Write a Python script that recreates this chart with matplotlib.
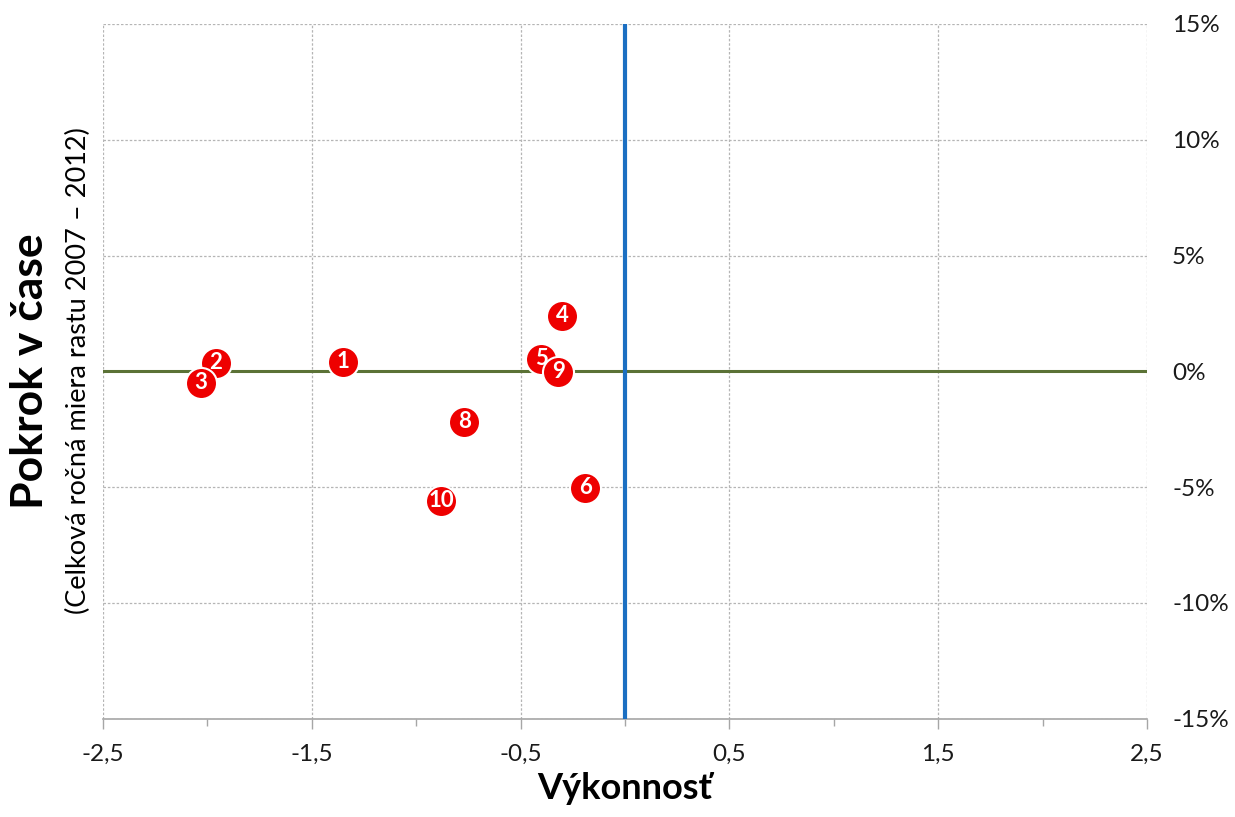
import matplotlib
matplotlib.use("Agg")
import matplotlib.pyplot as plt
from matplotlib.ticker import FixedLocator, FuncFormatter

plt.rcParams['font.family'] = ['Lato', 'DejaVu Sans']

# ---- data ----
point_labels = ["1", "2", "3", "4", "5", "6", "8", "9", "10"]
vykonnost = [-1.35, -1.96, -2.03, -0.30, -0.40, -0.19, -0.77, -0.32, -0.88]
pokrok = [0.42, 0.38, -0.49, 2.41, 0.55, -5.03, -2.17, -0.01, -5.59]  # percent

x_ticks = [-2.5, -1.5, -0.5, 0.5, 1.5, 2.5]
x_minor = [-2, -1, 0, 1, 2]
y_ticks = [-15, -10, -5, 0, 5, 10, 15]

fig = plt.figure(figsize=(12.35, 8.17), dpi=100)
ax = fig.add_axes([103/1235, 1-718.7/817, (1147-103)/1235, (718.7-24)/817])
ax.set_xlim(-2.5, 2.5)
ax.set_ylim(-15, 15)

grid_kw = dict(color="#b5b5b5", lw=0.9, ls=(0, (2, 1.5)), zorder=1)
for xv in x_ticks:
    ax.axvline(xv, **grid_kw)
for yv in y_ticks:
    if yv != 0:
        ax.axhline(yv, **grid_kw)

ax.axhline(0, color="#5b7236", lw=2.2, zorder=3)
ax.axvline(0, color="#1b6fc2", lw=3.0, zorder=3)

for s in ["top", "left", "right"]:
    ax.spines[s].set_visible(False)
ax.spines["bottom"].set_color("#a6a6a6")
ax.spines["bottom"].set_linewidth(1.2)
ax.spines["bottom"].set_zorder(2)

ax.xaxis.set_major_locator(FixedLocator(x_ticks))
ax.xaxis.set_minor_locator(FixedLocator(x_minor))
ax.xaxis.set_major_formatter(FuncFormatter(lambda v, p: f"{v:.1f}".replace(".", ",")))
ax.tick_params(axis="x", which="major", length=7, width=1, color="#a6a6a6",
               labelsize=17.5, pad=11, labelcolor="#1a1a1a")
ax.tick_params(axis="x", which="minor", length=5, width=1, color="#a6a6a6")

ax.yaxis.tick_right()
ax.yaxis.set_major_locator(FixedLocator(y_ticks))
ax.yaxis.set_major_formatter(FuncFormatter(lambda v, p: f"{v:.0f}%"))
ax.tick_params(axis="y", length=0, labelsize=17.5, pad=18, labelcolor="#1a1a1a")
for lab in ax.get_yticklabels():
    lab.set_horizontalalignment("left")

for i, (lbl, xv, yv) in enumerate(zip(point_labels, vykonnost, pokrok)):
    ax.scatter([xv], [yv], s=500, c="#ee0000", edgecolors="white", linewidths=1.5,
               zorder=10 + 2*i, clip_on=False)
    ax.text(xv, yv, lbl, color="white", fontsize=16, fontweight="bold",
            ha="center", va="center", zorder=11 + 2*i)

ax.set_xlabel("Výkonnosť", fontsize=26, fontweight="bold", labelpad=5)
fig.text(30/1235, 1-371/817, "Pokrok v čase", rotation=90, fontsize=32,
         fontweight="bold", ha="center", va="center")
fig.text(78/1235, 1-371/817, "(Celková ročná miera rastu 2007 – 2012)", rotation=90,
         fontsize=19.5, ha="center", va="center")

fig.savefig("out.png", dpi=100)
